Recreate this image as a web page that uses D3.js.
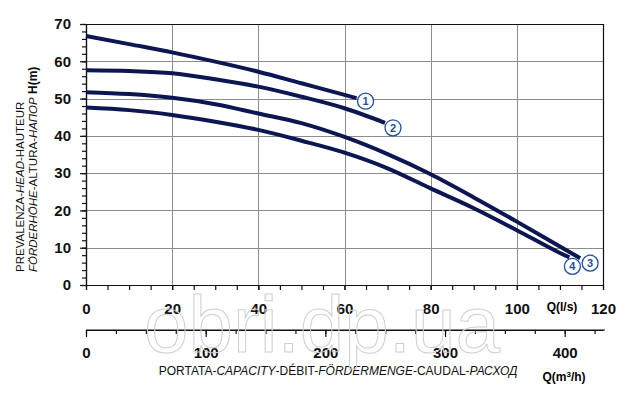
<!DOCTYPE html>
<html>
<head>
<meta charset="utf-8">
<script src="https://cdn.jsdelivr.net/npm/d3@7"></script>
<style>
body{margin:0;background:#fff;}
text{font-family:"Liberation Sans",Arial,sans-serif;}
</style>
</head>
<body>
<div id="chart"></div>
<script>
/* data : flow in l/s, head in m */
var curve1Q = [0, 10, 20, 30, 40, 50, 60, 62.8];
var curve1H = [66.8, 64.6, 62.4, 59.9, 57.2, 54.1, 51.0, 50.1];
var curve2Q = [0, 10, 20, 30, 40, 50, 60, 69.4];
var curve2H = [57.6, 57.4, 56.8, 55.2, 53.2, 50.5, 47.4, 43.5];
var curve3Q = [0, 10, 20, 30, 40, 50, 60, 70, 80, 90, 100, 110, 114.7];
var curve3H = [51.7, 51.2, 50.2, 48.5, 46.0, 43.4, 39.7, 35.1, 29.7, 23.5, 17.0, 10.3, 7.2];
var curve4Q = [0, 10, 20, 30, 40, 50, 60, 70, 80, 90, 100, 110, 112.2];
var curve4H = [47.6, 46.9, 45.6, 43.8, 41.6, 38.7, 35.5, 31.3, 25.9, 20.6, 14.7, 8.6, 7.4];
var curveNames = ["1", "2", "3", "4"];

var headTicks = [0, 10, 20, 30, 40, 50, 60, 70];
var flowTicks = [0, 20, 40, 60, 80, 100, 120];
var m3hTicks = [0, 100, 200, 300, 400];

var W = 640, H = 396;
var navy = "#0c1652", blue = "#22509f";

var svg = d3.select("#chart").append("svg").attr("width", W).attr("height", H);

var x = d3.scaleLinear().domain([0, 120]).range([86, 603]);
var y = d3.scaleLinear().domain([0, 70]).range([285, 24]);
var xm = d3.scaleLinear().domain([0, 120 * 3.6]).range([86, 603]);

// grid
var grid = svg.append("g").attr("stroke", "#8c8c8c").attr("stroke-width", 1);
grid.selectAll("line.h").data(headTicks.slice(1, -1)).enter().append("line")
	.attr("x1", x(0)).attr("x2", x(120))
	.attr("y1", function(d){ return Math.round(y(d)) + 0.5; })
	.attr("y2", function(d){ return Math.round(y(d)) + 0.5; });
grid.selectAll("line.v").data(flowTicks.slice(1, -1)).enter().append("line")
	.attr("y1", y(0)).attr("y2", y(70))
	.attr("x1", function(d){ return Math.round(x(d)) + 0.5; })
	.attr("x2", function(d){ return Math.round(x(d)) + 0.5; });

// frame top/right
svg.append("path").attr("fill", "none").attr("stroke", "#111").attr("stroke-width", 1.2)
	.attr("d", "M" + x(0) + "," + (y(70) + 0.5) + "H" + (x(120) + 0.5) + "V" + y(0));

function styleAxis(g){
	g.selectAll("path,line").attr("stroke", "#111").attr("stroke-width", 1.2);
	g.selectAll("text").attr("fill", "#111").style("font-weight", "bold").style("font-size", "15px")
		.style("font-family", "'Liberation Sans',Arial,sans-serif");
}

// y axis
svg.append("g").attr("transform", "translate(" + x(0) + ",0)")
	.call(d3.axisLeft(y).tickValues(d3.range(0, 71, 2)).tickSize(4).tickFormat("").tickSizeOuter(0))
	.call(styleAxis);
svg.append("g").attr("transform", "translate(" + x(0) + ",0)")
	.call(d3.axisLeft(y).tickValues(headTicks).tickSize(6).tickPadding(9).tickSizeOuter(0))
	.call(styleAxis);

// l/s axis
svg.append("g").attr("transform", "translate(0," + y(0) + ")")
	.call(d3.axisBottom(x).tickValues(d3.range(0, 121, 5)).tickSize(5).tickFormat("").tickSizeOuter(0))
	.call(styleAxis);
var ax1 = svg.append("g").attr("transform", "translate(0," + y(0) + ")")
	.call(d3.axisBottom(x).tickValues(flowTicks).tickSize(5).tickSizeOuter(0))
	.call(styleAxis);
ax1.selectAll("text").attr("y", 24).attr("dy", "0.35em");

// m3/h axis
var yM = 330;
svg.append("g").attr("transform", "translate(0," + yM + ")")
	.call(d3.axisBottom(xm).tickValues(d3.range(0, 432, 25)).tickSize(4).tickFormat("").tickSizeOuter(0))
	.call(styleAxis);
var ax2 = svg.append("g").attr("transform", "translate(0," + yM + ")")
	.call(d3.axisBottom(xm).tickValues(m3hTicks).tickSize(7).tickSizeOuter(0))
	.call(styleAxis);
ax2.selectAll("text").attr("y", 23).attr("dy", "0.35em");
ax2.select(".domain").attr("d", "M" + xm(0) + ",0H605");

// axis names
svg.append("text").attr("x", 562).attr("y", 311).attr("text-anchor", "middle")
	.style("font-weight", "bold").style("font-size", "12px").text("Q(l/s)");
var qm = svg.append("text").attr("x", 564).attr("y", 381).attr("text-anchor", "middle")
	.style("font-weight", "bold").style("font-size", "12px");
qm.append("tspan").text("Q(m");
qm.append("tspan").attr("font-size", "8px").attr("dy", -4).text("3");
qm.append("tspan").attr("dy", 4).text("/h)");

var title = svg.append("text").attr("x", 338).attr("y", 375).attr("text-anchor", "middle")
	.style("font-size", "12px").attr("fill", "#111");
[["PORTATA-", 0], ["CAPACITY", 1], ["-DÉBIT-", 0], ["FÖRDERMENGE", 1], ["-CAUDAL-", 0], ["РАСХОД", 1]]
	.forEach(function(p){ title.append("tspan").style("font-style", p[1] ? "italic" : "normal").text(p[0]); });

var yl1 = svg.append("text").attr("transform", "translate(24,272) rotate(-90)")
	.style("font-size", "11.5px").attr("fill", "#111");
[["PREVALENZA-", 0], ["HEAD", 1], ["-HAUTEUR", 0]]
	.forEach(function(p){ yl1.append("tspan").style("font-style", p[1] ? "italic" : "normal").text(p[0]); });
var yl2 = svg.append("text").attr("transform", "translate(37,272) rotate(-90)")
	.style("font-size", "11.5px").attr("fill", "#111");
[["FÖRDERHÖHE", 1], ["-ALTURA-", 0], ["НАПОР", 1]]
	.forEach(function(p){ yl2.append("tspan").style("font-style", p[1] ? "italic" : "normal").text(p[0]); });
yl2.append("tspan").style("font-weight", "bold").style("font-size", "12px").text(" H(m)");

// curves
var curves = [[curve1Q, curve1H], [curve2Q, curve2H], [curve3Q, curve3H], [curve4Q, curve4H]].map(function(c, i){
	return { name: curveNames[i], pts: c[0].map(function(q, j){ return [q, c[1][j]]; }) };
});
var line = d3.line().x(function(d){ return x(d[0]); }).y(function(d){ return y(d[1]); }).curve(d3.curveMonotoneX);
svg.append("g").selectAll("path").data(curves).enter().append("path")
	.attr("d", function(d){ return line(d.pts); })
	.attr("fill", "none").attr("stroke", navy).attr("stroke-width", 4);

// curve labels
var labelOff = [[9, 3], [8, 5], [10, 5], [3, 9]];
var lab = svg.append("g").selectAll("g").data(curves).enter().append("g")
	.attr("transform", function(d, i){
		var e = d.pts[d.pts.length - 1];
		return "translate(" + (x(e[0]) + labelOff[i][0]) + "," + (y(e[1]) + labelOff[i][1]) + ")";
	});
lab.append("circle").attr("r", 8).attr("fill", "#fff").attr("stroke", blue).attr("stroke-width", 1.3);
lab.append("text").attr("text-anchor", "middle").attr("dy", "0.36em").attr("fill", blue)
	.style("font-weight", "bold").style("font-size", "11px").text(function(d){ return d.name; });

// watermark
svg.append("text").attr("x", 322).attr("y", 352).attr("text-anchor", "middle")
	.style("font-size", "80px").attr("fill", "none").attr("stroke", "#cfcfcf").attr("stroke-width", 1)
	.text("obri.dp.ua");
</script>
</body>
</html>
